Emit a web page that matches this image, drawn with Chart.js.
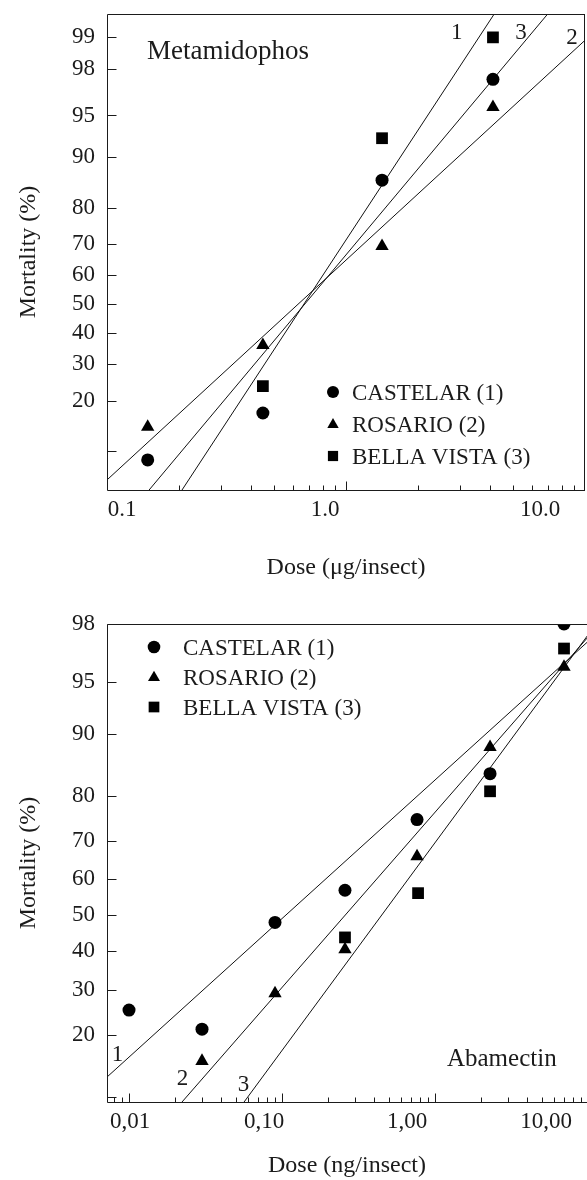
<!DOCTYPE html>
<html>
<head>
<meta charset="utf-8">
<script src="https://cdn.jsdelivr.net/npm/chart.js@4.4.1/dist/chart.umd.min.js"></script>
<style>
  html, body { margin: 0; padding: 0; background: #fff; }
  .panel { width: 587px; height: 590px; }
  canvas { display: block; }
</style>
</head>
<body>
<div class="panel"><canvas id="meta-chart" width="587" height="590"></canvas></div>
<div class="panel"><canvas id="abam-chart" width="587" height="590"></canvas></div>
<script>
// --- Metamidophos (dose in µg/insect, mortality in %) ---
const metaCastelarDose = [0.148, 0.449, 1.415, 4.12];
const metaCastelarPct  = [8.7, 17.1, 86.0, 97.5];
const metaRosarioDose  = [0.148, 0.449, 1.415, 4.12];
const metaRosarioPct   = [14.2, 36.0, 69.3, 95.7];
const metaBellaDose    = [0.449, 1.415, 4.12];
const metaBellaPct     = [23.7, 92.6, 99.0];
// fitted lines, read where they meet the frame
const metaLine1Dose = [0.206, 4.17];
const metaLine1Pct  = [5.24, 99.43];
const metaLine2Dose = [0.1, 10];
const metaLine2Pct  = [6.25, 98.93];
const metaLine3Dose = [0.150, 6.98];
const metaLine3Pct  = [5.24, 99.43];
const metaXTicks  = [0.1, 0.2, 0.3, 0.4, 0.5, 0.6, 0.7, 0.8, 0.9, 1, 2, 3, 4, 5, 6, 7, 8, 9, 10];
const metaXMajor  = [1];
const metaXLabelValues = [0.1, 1, 10];
const metaXLabels = ['0.1', '1.0', '10.0'];
const metaYTicks  = [10, 20, 30, 40, 50, 60, 70, 80, 90, 95, 98, 99];
const metaYLabels = ['', '20', '30', '40', '50', '60', '70', '80', '90', '95', '98', '99'];

// --- Abamectin (dose in ng/insect, mortality in %) ---
const abamCastelarDose = [0.01, 0.03, 0.09, 0.258, 0.763, 2.29, 6.97];
const abamCastelarPct  = [25.2, 21.1, 48.0, 57.0, 75.0, 84.1, 98.0];
const abamRosarioDose  = [0.03, 0.09, 0.258, 0.763, 2.29, 6.97];
const abamRosarioPct   = [15.2, 29.1, 40.5, 66.1, 88.2, 96.0];
const abamBellaDose    = [0.258, 0.775, 2.29, 6.97];
const abamBellaPct     = [43.8, 56.2, 80.9, 97.0];
const abamLine1Dose = [0.00718, 10.3];
const abamLine1Pct  = [12.7, 97.4];
const abamLine2Dose = [0.0222, 10.3];
const abamLine2Pct  = [9.4, 97.6];
const abamLine3Dose = [0.0565, 10.3];
const abamLine3Pct  = [9.4, 97.7];
const abamXTicks  = [0.008, 0.009, 0.01, 0.02, 0.03, 0.04, 0.05, 0.06, 0.07, 0.08, 0.09,
                     0.1, 0.2, 0.3, 0.4, 0.5, 0.6, 0.7, 0.8, 0.9, 1, 2, 3, 4, 5, 6, 7, 8, 9];
const abamXMajor  = [0.01, 0.1, 1];
const abamXLabelValues = [0.01, 0.1, 1, 10];
const abamXLabels = ['0,01', '0,10', '1,00', '10,00'];
const abamYTicks  = [10, 20, 30, 40, 50, 60, 70, 80, 90, 95, 98];
const abamYLabels = ['', '20', '30', '40', '50', '60', '70', '80', '90', '95', '98'];

const INK = '#1b1b1b';
const FONT = "'Liberation Serif', 'Times New Roman', serif";

// inverse normal CDF (Acklam) - mortality % -> probit units
function probit(pct) {
    const p = pct / 100;
    const a = [-39.69683028665376, 220.9460984245205, -275.9285104469687, 138.3577518672690, -30.66479806614716, 2.506628277459239];
    const b = [-54.47609879822406, 161.5858368580409, -155.6989798598866, 66.80131188771972, -13.28068155288572];
    const c = [-0.007784894002430293, -0.3223964580411365, -2.400758277161838, -2.549732539343734, 4.374664141464968, 2.938163982698783];
    const d = [0.007784695709041462, 0.3224671290700398, 2.445134137142996, 3.754408661907416];
    const tail = q => (((((c[0]*q+c[1])*q+c[2])*q+c[3])*q+c[4])*q+c[5]) / ((((d[0]*q+d[1])*q+d[2])*q+d[3])*q+1);
    if (p < 0.02425) return tail(Math.sqrt(-2 * Math.log(p)));
    if (p > 0.97575) return -tail(Math.sqrt(-2 * Math.log(1 - p)));
    const q = p - 0.5, r = q * q;
    return (((((a[0]*r+a[1])*r+a[2])*r+a[3])*r+a[4])*r+a[5])*q / (((((b[0]*r+b[1])*r+b[2])*r+b[3])*r+b[4])*r+1);
}

const pts = (doses, pcts) => doses.map((d, i) => ({ x: d, y: probit(pcts[i]) }));

function markers(label, style, radius, data) {
    return { label, data, pointStyle: style, pointRadius: radius, backgroundColor: '#000',
             borderColor: '#000', borderWidth: 0, showLine: false };
}

function fitLine(data) {
    return { data, showLine: true, pointRadius: 0, borderColor: '#111', borderWidth: 1, fill: false };
}

function drawMarker(ctx, style, x, y, s) {
    ctx.beginPath();
    if (style === 'circle') ctx.arc(x, y, s, 0, Math.PI * 2);
    else if (style === 'triangle') { ctx.moveTo(x, y - s); ctx.lineTo(x + s * 0.95, y + s * 0.65); ctx.lineTo(x - s * 0.95, y + s * 0.65); ctx.closePath(); }
    else ctx.rect(x - s * 0.85, y - s * 0.85, s * 1.7, s * 1.7);
    ctx.fill();
}

// frame, inward ticks, x labels, legend and notes
const probitPlot = {
    id: 'probitPlot',
    afterDraw(chart, args, o) {
        const { ctx, chartArea: a, scales: { x, y } } = chart;
        const L = Math.round(a.left) + 0.5, T = Math.round(a.top) + 0.5;
        const B = Math.round(a.bottom) + 0.5, R = Math.round(a.right) - 0.5;
        ctx.save();
        ctx.strokeStyle = INK;
        ctx.lineWidth = 1;
        ctx.beginPath();
        ctx.moveTo(L, T); ctx.lineTo(L, B); ctx.lineTo(a.right, B);
        ctx.moveTo(L, T); ctx.lineTo(a.right, T);
        if (o.rightBorder) { ctx.moveTo(R, T); ctx.lineTo(R, B); }
        o.yTicks.forEach(p => {
            const py = Math.round(y.getPixelForValue(probit(p))) + 0.5;
            ctx.moveTo(L, py); ctx.lineTo(L + 9, py);
        });
        o.xTicks.forEach(v => {
            const px = Math.round(x.getPixelForValue(v)) + 0.5;
            if (px <= a.left + 1 || px >= a.right - 1) return;
            const len = o.xMajor.includes(v) ? 9 : 5;
            ctx.moveTo(px, B); ctx.lineTo(px, B - len);
        });
        ctx.stroke();

        ctx.fillStyle = INK;
        ctx.font = `23px ${FONT}`;
        ctx.textAlign = 'center';
        ctx.textBaseline = 'middle';
        o.xLabelValues.forEach((v, i) => {
            ctx.fillText(o.xLabels[i], x.getPixelForValue(v) + o.xLabelShift[i], a.bottom + 20);
        });

        const lg = o.legend;
        chart.data.datasets.filter(ds => ds.pointRadius > 0).forEach((ds, i) => {
            const cy = lg.y + i * lg.step;
            ctx.fillStyle = '#000';
            drawMarker(ctx, ds.pointStyle, lg.x, cy, lg.size);
            ctx.fillStyle = INK;
            ctx.textAlign = 'left';
            ctx.fillText(ds.label, lg.textX, cy + 2);
        });

        o.notes.forEach(n => {
            ctx.font = `${n.size || 23}px ${FONT}`;
            ctx.textAlign = n.align || 'center';
            ctx.fillText(n.text, x.getPixelForValue(n.dose), y.getPixelForValue(probit(n.pct)));
        });
        ctx.restore();
    }
};

function probitChart(id, cfg) {
    return new Chart(document.getElementById(id), {
        type: 'scatter',
        data: { datasets: cfg.datasets },
        options: {
            responsive: false,
            animation: false,
            events: [],
            layout: { padding: cfg.padding, autoPadding: false },
            plugins: {
                legend: { display: false },
                tooltip: { enabled: false },
                probitPlot: cfg.plot
            },
            scales: {
                x: {
                    type: 'logarithmic',
                    min: cfg.xMin, max: cfg.xMax,
                    grid: { display: false },
                    border: { display: false },
                    ticks: { display: false },
                    afterBuildTicks: s => { s.ticks = cfg.plot.xTicks.map(v => ({ value: v })); },
                    afterFit: s => { s.height = cfg.xHeight; s.paddingLeft = 0; s.paddingRight = 0; },
                    title: { display: true, text: cfg.xTitle, color: INK,
                             font: { family: FONT, size: 24 }, padding: { top: 0, bottom: cfg.xTitlePad } }
                },
                y: {
                    type: 'linear',
                    min: probit(cfg.yMinPct), max: probit(cfg.yMaxPct),
                    grid: { display: false, drawTicks: false },
                    border: { display: false },
                    afterBuildTicks: s => { s.ticks = cfg.plot.yTicks.map(p => ({ value: probit(p) })); },
                    afterFit: s => { s.width = 107; s.paddingTop = 0; s.paddingBottom = 0; },
                    ticks: { autoSkip: false, padding: 12, color: INK, font: { family: FONT, size: 23 },
                             callback: (v, i) => cfg.yLabels[i] },
                    title: { display: true, text: 'Mortality (%)', color: INK,
                             font: { family: FONT, size: 24 }, padding: { top: 14, bottom: 0 } }
                }
            }
        },
        plugins: [probitPlot]
    });
}

probitChart('meta-chart', {
    padding: { top: 14, right: 2, left: 0, bottom: 0 },
    xMin: 0.1, xMax: 10, xHeight: 100, xTitle: 'Dose (μg/insect)', xTitlePad: 8,
    yMinPct: 5.24, yMaxPct: 99.43, yLabels: metaYLabels,
    datasets: [
        markers('CASTELAR (1)', 'circle', 6.5, pts(metaCastelarDose, metaCastelarPct)),
        markers('ROSARIO (2)', 'triangle', 7.7, pts(metaRosarioDose, metaRosarioPct)),
        markers('BELLA VISTA (3)', 'rect', 8.3, pts(metaBellaDose, metaBellaPct)),
        fitLine(pts(metaLine1Dose, metaLine1Pct)),
        fitLine(pts(metaLine2Dose, metaLine2Pct)),
        fitLine(pts(metaLine3Dose, metaLine3Pct))
    ],
    plot: {
        rightBorder: true,
        xTicks: metaXTicks, xMajor: metaXMajor, yTicks: metaYTicks,
        xLabelValues: metaXLabelValues, xLabels: metaXLabels, xLabelShift: [15, -21, -45],
        legend: { x: 333, y: 392, step: 32, size: 6, textX: 352 },
        notes: [
            { text: 'Metamidophos', dose: 0.147, pct: 98.6, align: 'left', size: 27 },
            { text: '1', dose: 2.91, pct: 99.09 },
            { text: '3', dose: 5.40, pct: 99.09 },
            { text: '2', dose: 8.82, pct: 98.99 }
        ]
    }
});

probitChart('abam-chart', {
    padding: { top: 34, right: 0, left: 0, bottom: 0 },
    xMin: 0.00718, xMax: 9.85, xHeight: 78, xTitle: 'Dose (ng/insect)', xTitlePad: 0,
    yMinPct: 9.4, yMaxPct: 98, yLabels: abamYLabels,
    datasets: [
        markers('CASTELAR (1)', 'circle', 6.5, pts(abamCastelarDose, abamCastelarPct)),
        markers('ROSARIO (2)', 'triangle', 7.7, pts(abamRosarioDose, abamRosarioPct)),
        markers('BELLA VISTA (3)', 'rect', 8.3, pts(abamBellaDose, abamBellaPct)),
        fitLine(pts(abamLine1Dose, abamLine1Pct)),
        fitLine(pts(abamLine2Dose, abamLine2Pct)),
        fitLine(pts(abamLine3Dose, abamLine3Pct))
    ],
    plot: {
        rightBorder: false,
        xTicks: abamXTicks, xMajor: abamXMajor, yTicks: abamYTicks,
        xLabelValues: abamXLabelValues, xLabels: abamXLabels, xLabelShift: [1, -18, -28, -42],
        legend: { x: 154, y: 57, step: 30, size: 6.3, textX: 183 },
        notes: [
            { text: 'Abamectin', dose: 1.197, pct: 15.4, align: 'left', size: 25 },
            { text: '1', dose: 0.00841, pct: 16.2 },
            { text: '2', dose: 0.0224, pct: 12.4 },
            { text: '3', dose: 0.0561, pct: 11.6 }
        ]
    }
});
</script>
</body>
</html>
